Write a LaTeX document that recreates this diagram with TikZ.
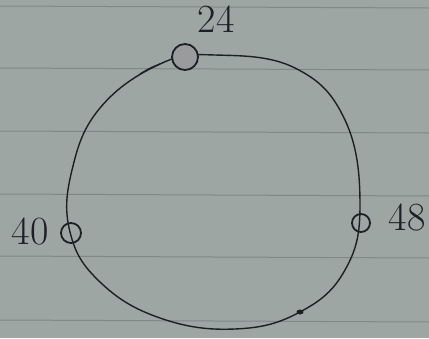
\documentclass[tikz,border=0pt]{standalone}
\usepackage{xcolor}
\usepackage{tikz}
\usetikzlibrary{positioning,calc}

\definecolor{paper}{RGB}{158,166,164}
\definecolor{rule}{RGB}{128,136,136}
\definecolor{ink}{RGB}{28,32,36}

\begin{document}
\begin{tikzpicture}[x=1pt,y=-1pt,line cap=round,
  hole/.style={circle,draw=ink,line width=1.8pt,inner sep=0pt},
  num/.style={text=ink,font=\fontsize{40}{44}\selectfont,inner sep=0pt}]
% paper and rules
\fill[paper] (0,0) rectangle (429,338);
\useasboundingbox (0,0) rectangle (429,338);
\foreach \y in {6,68,131,194,256,320} {
  \draw[rule,line width=1pt] (0,\y) -- (429,\y+2);
}
% the ring
\draw[ink,line width=1.4pt] plot[smooth cycle,tension=0.7] coordinates
  {(215,55) (295,68) (345,120) (360,205) (345,270) (300,312) (235,329)
   (160,318) (100,282) (70,232) (72,170) (100,108) (160,64)};
\draw[ink,line width=1.3pt] (160,64) .. controls (150,68) .. (140,74);
% marks on the ring
\node[hole,minimum size=26pt,fill=ink!45] (c24) at (185,57) {};
\node[hole,minimum size=20pt] (c40) at (71,233) {};
\node[hole,minimum size=18pt] (c48) at (361,223) {};
\fill[ink] (300,312) ellipse (3.5pt and 2.5pt);
% labels
\node[num] (l24) at (216,19) {24};
\node[num] (l40) at (30,231) {40};
\node[num] (l48) at (407,217) {48};
\end{tikzpicture}
\end{document}
